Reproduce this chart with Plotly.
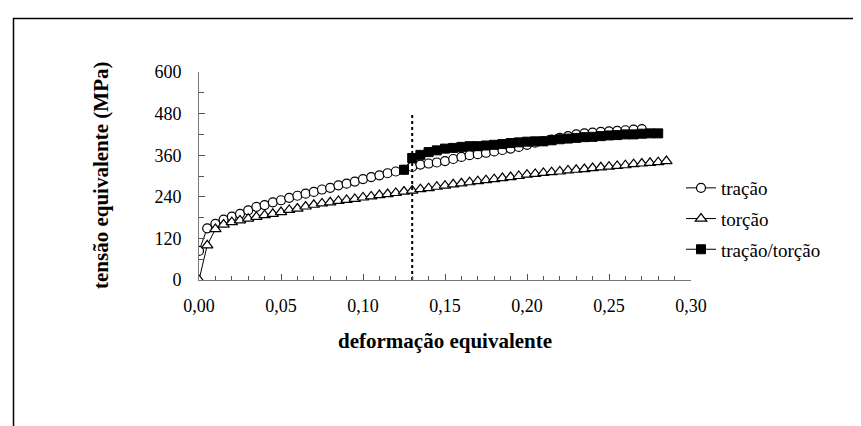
import plotly.graph_objects as go

# ---------------- data ----------------
strain_tracao = [round(0.005 * i, 3) for i in range(55)]  # 0.000 .. 0.270
tracao = [84, 149, 162, 174, 183, 191, 201, 211, 216, 224,
          230, 237, 243, 249, 254, 261, 266, 273, 278, 284,
          291, 297, 302, 308, 313, 318, 326, 333, 336, 339,
          343, 349, 355, 360, 363, 367, 371, 375, 379, 384,
          390, 396, 401, 405, 410, 415, 420, 423, 425, 427,
          429, 430, 432, 434, 435]

strain_torcao = [round(0.005 * i, 3) for i in range(58)]  # 0.000 .. 0.285
torcao = [0, 100, 147, 160, 167, 172, 177, 182, 187, 191,
          196, 202, 206, 212, 217, 221, 224, 228, 231, 234,
          238, 241, 245, 248, 251, 255, 258, 262, 265, 269,
          272, 276, 279, 282, 285, 288, 291, 294, 297, 300,
          304, 306, 309, 311, 313, 316, 318, 320, 323, 325,
          327, 329, 331, 334, 336, 338, 340, 343]

strain_tt = [round(0.125 + 0.005 * i, 3) for i in range(32)]  # 0.125 .. 0.280
tracao_torcao = [318, 352, 361, 369, 374, 379, 381, 384, 386, 386,
                 388, 390, 392, 395, 397, 399, 400, 400, 403, 406,
                 408, 410, 412, 413, 415, 417, 418, 420, 420, 422,
                 423, 423]

switch_x = [0.13, 0.13]
switch_y = [0, 478]

x_tickvals = [0.0, 0.05, 0.10, 0.15, 0.20, 0.25, 0.30]
y_tickvals = [0, 120, 240, 360, 480, 600]

names = ["tração", "torção", "tração/torção"]
x_title = "deformação equivalente"
y_title = "tensão equivalente (MPa)"

# ---------------- figure ----------------
FONT = "Liberation Serif, Times New Roman, serif"
W, H = 861, 426
L, R, T, B = 191, 178, 64, 154

fig = go.Figure()

fig.add_trace(go.Scatter(
    x=strain_tracao, y=tracao, name=names[0], mode="lines+markers",
    line=dict(color="black", width=1),
    marker=dict(symbol="circle", size=9, color="white",
                line=dict(color="black", width=1.2)),
    legendgroup="a"))
fig.add_trace(go.Scatter(
    x=strain_torcao, y=torcao, name=names[1], mode="lines+markers",
    line=dict(color="black", width=1),
    marker=dict(symbol="triangle-up", size=10, color="white",
                line=dict(color="black", width=1.2)),
    legendgroup="b"))
fig.add_trace(go.Scatter(
    x=strain_tt, y=tracao_torcao, name=names[2], mode="lines+markers",
    line=dict(color="black", width=1),
    marker=dict(symbol="square", size=9, color="black",
                line=dict(color="black", width=1)),
    legendgroup="c"))
fig.add_trace(go.Scatter(
    x=switch_x, y=switch_y, mode="lines", showlegend=False,
    line=dict(color="black", width=2, dash="dot"), hoverinfo="skip"))

axis_common = dict(showgrid=False, zeroline=False, showline=True,
                   linecolor="#777", linewidth=1, ticks="inside",
                   tickcolor="#555", tickwidth=1, mirror=False,
                   tickfont=dict(family=FONT, size=18, color="black"))

fig.update_xaxes(range=[0, 0.30], tickvals=x_tickvals, tickformat=".2f",
                 ticklen=6, ticklabelstandoff=9,
                 minor=dict(dtick=0.01, ticks="inside", ticklen=4,
                            tickcolor="#555", tickwidth=1),
                 **axis_common)
fig.update_yaxes(range=[0, 600], tickvals=y_tickvals,
                 ticklen=6, ticklabelstandoff=13,
                 minor=dict(dtick=60, ticks="inside", ticklen=5,
                            tickcolor="#555", tickwidth=1),
                 **axis_common)

pw = W - L - R
ph = H - T - B
def px(xp):
    return (xp - L) / pw
def py(yp):
    return (H - B - yp) / ph

fig.update_layout(
    width=W, height=H,
    margin=dict(l=L, r=R, t=T, b=B, pad=0),
    paper_bgcolor="white", plot_bgcolor="white",
    separators=",.",
    showlegend=True,
    legend=dict(x=px(673), y=py(161), xanchor="left", yanchor="top",
                font=dict(family=FONT, size=19, color="black"),
                tracegroupgap=3, bgcolor="rgba(0,0,0,0)",
                itemwidth=30),
    annotations=[
        dict(text="<b>" + x_title + "</b>", x=px(437), y=py(333),
             xref="paper", yref="paper", showarrow=False,
             xanchor="center", yanchor="middle",
             font=dict(family=FONT, size=21, color="black")),
        dict(text="<b>" + y_title + "</b>", x=px(93), y=py(168),
             xref="paper", yref="paper", showarrow=False, textangle=-90,
             xanchor="center", yanchor="middle",
             font=dict(family=FONT, size=21, color="black")),
    ],
    shapes=[
        dict(type="rect", xref="paper", yref="paper",
             x0=px(5.5), x1=px(880), y0=py(440), y1=py(10.5),
             line=dict(color="black", width=1.5), layer="below"),
    ],
)

fig.write_html("out.html")
